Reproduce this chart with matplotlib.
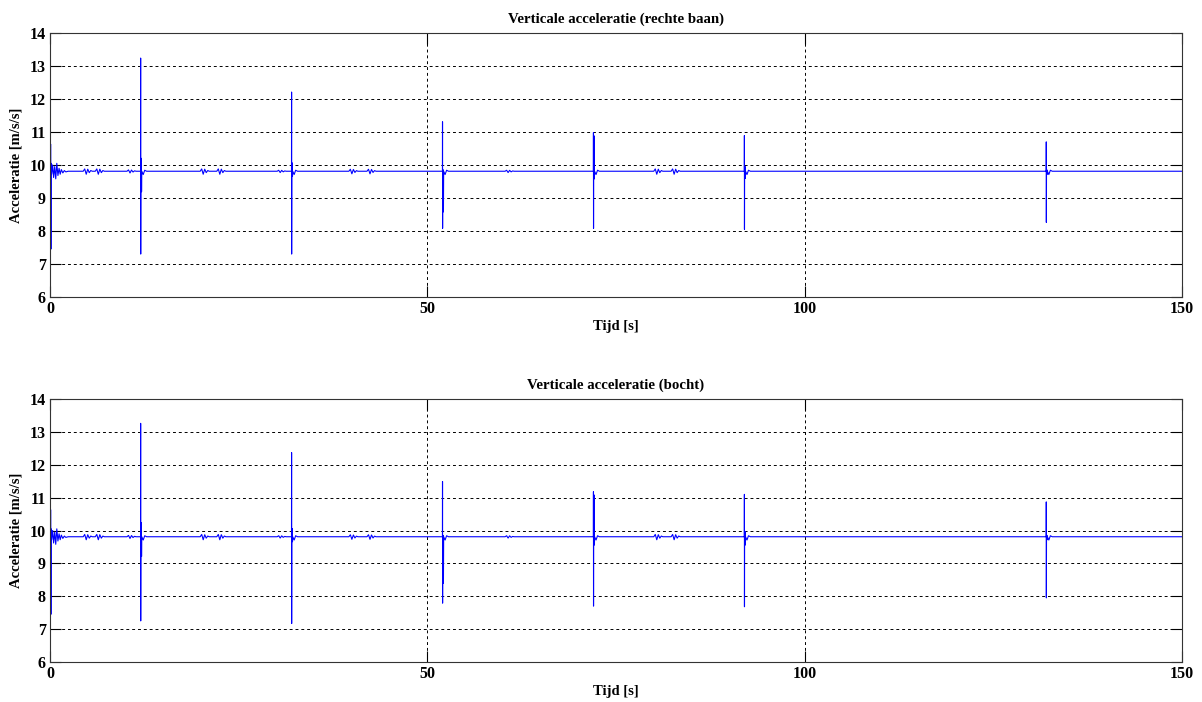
"""Vertical acceleration of the train on a straight track and in a curve."""

import matplotlib
matplotlib.use("Agg")
import matplotlib.pyplot as plt
import numpy as np

plt.rcParams["font.family"] = ["Liberation Serif", "DejaVu Serif"]
plt.rcParams["font.weight"] = "bold"

G = 9.81  # rest level [m/s/s]
T_END = 150.0

# start-up transient (same for both runs)
start_t = [0.10, 0.12, 0.14, 0.22, 0.35, 0.48, 0.62, 0.76, 0.90, 1.05, 1.20,
           1.35, 1.50, 1.70, 1.90, 2.10, 2.40]
start_a = [10.62, 7.45, 10.05, 9.72, 10.00, 9.62, 9.95, 9.58, 10.05, 9.68, 9.90,
           9.72, 9.86, 9.76, 9.83, 9.79, 9.81]

# small ripples along the track
wiggle_t = [4.4, 6.0, 10.2, 19.9, 22.1, 30.1, 39.6, 42.0, 60.3, 80.0, 82.3]
wiggle_amp = [0.07, 0.07, 0.04, 0.07, 0.07, 0.03, 0.06, 0.06, 0.03, 0.07, 0.07]
wiggle_dt = [0.0, 0.2, 0.4, 0.6, 0.8, 1.0, 1.2]
wiggle_shape = [0.0, 1.0, -1.3, 0.9, -0.6, 0.3, 0.0]

# rail joints: peak, trough and the inner ringing of each shock
spike_t = [12, 32, 52, 72, 92, 132]

hi_recht = [13.24, 12.21, 11.31, 10.98, 10.89, 10.70]
lo_recht = [7.30, 7.30, 8.08, 8.08, 8.05, 8.26]
ihi_recht = [10.20, 10.06, 9.85, 10.88, 9.95, 9.85]
ilo_recht = [9.19, 9.66, 8.58, 9.58, 9.60, 9.72]

hi_bocht = [13.26, 12.37, 11.49, 11.18, 11.10, 10.87]
lo_bocht = [7.25, 7.17, 7.79, 7.70, 7.68, 7.95]
ihi_bocht = [10.23, 10.06, 9.85, 11.08, 9.97, 9.85]
ilo_bocht = [9.21, 9.66, 8.40, 9.56, 9.56, 9.72]

spike_dt = [0.0, 0.01, 0.02, 0.04, 0.07, 0.10, 0.13, 0.16, 0.35, 0.55, 0.80]


def build_trace(hi, lo, ihi, ilo):
    pts = list(zip(start_t, start_a))
    for t0, amp in zip(wiggle_t, wiggle_amp):
        pts += [(t0 + d, G + amp * s) for d, s in zip(wiggle_dt, wiggle_shape)]
    for t0, h, l, ih, il in zip(spike_t, hi, lo, ihi, ilo):
        vals = [G, h, l, ih, il, ih, il, G, G - 0.10, G + 0.03, G]
        pts += [(t0 + d, v) for d, v in zip(spike_dt, vals)]
    pts.append((T_END, G))
    pts.sort(key=lambda p: p[0])
    t, a = zip(*pts)
    return np.array(t), np.array(a)


def style_axes(ax, title):
    ax.set_xlim(0, 150)
    ax.set_ylim(6, 14)
    ax.set_xticks([0, 50, 100, 150])
    ax.set_yticks(range(6, 15))
    ax.tick_params(direction="in", length=8, width=0.8, top=True, right=True,
                   labelsize=11.5, pad=3)
    ax.grid(True, color="black", linestyle=(0, (3, 3)), lw=0.7)
    for sp in ax.spines.values():
        sp.set_color("#333333")
        sp.set_linewidth(0.8)
    ax.set_title(title, fontsize=10.7, fontweight="bold", pad=7)
    ax.set_xlabel("Tijd [s]", fontsize=10.5, fontweight="bold", labelpad=2)
    ax.set_ylabel("Acceleratie [m/s/s]", fontsize=10.5, fontweight="bold", labelpad=5)


fig = plt.figure(figsize=(12.02, 7.02), dpi=100)
ax1 = fig.add_axes([0.0416, 0.577, 0.9418, 0.376])
ax2 = fig.add_axes([0.0416, 0.057, 0.9418, 0.3746])

t, a = build_trace(hi_recht, lo_recht, ihi_recht, ilo_recht)
ax1.plot(t, a, color="blue", lw=0.8)
style_axes(ax1, "Verticale acceleratie (rechte baan)")

t, a = build_trace(hi_bocht, lo_bocht, ihi_bocht, ilo_bocht)
ax2.plot(t, a, color="blue", lw=0.8)
style_axes(ax2, "Verticale acceleratie (bocht)")

fig.savefig("out.png", dpi=100)
